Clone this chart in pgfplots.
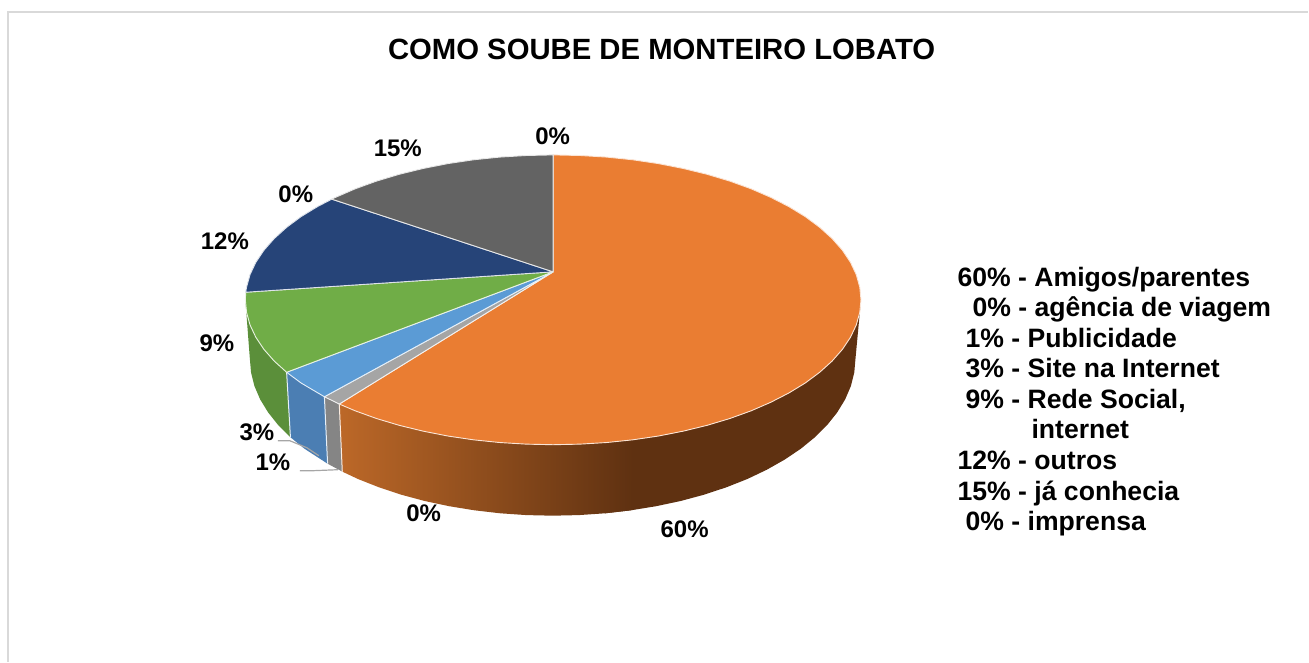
\documentclass[border=0pt]{standalone}
\usepackage{pgfplots}
\pgfplotsset{compat=1.18}
\usepackage{fontspec}
\setmainfont{Liberation Sans}
\definecolor{cOrange}{HTML}{EA7D32}
\definecolor{cOrangeL}{HTML}{BC6828}
\definecolor{cOrangeD}{HTML}{5F3111}
\definecolor{cGrayL}{HTML}{A5A5A5}
\definecolor{cGrayW}{HTML}{858585}
\definecolor{cBlue}{HTML}{5B9BD5}
\definecolor{cBlueW}{HTML}{4B7EB3}
\definecolor{cGreen}{HTML}{70AD47}
\definecolor{cGreenW}{HTML}{5B8F3A}
\definecolor{cNavy}{HTML}{264478}
\definecolor{cDark}{HTML}{636363}
\definecolor{cFrame}{HTML}{D9D9D9}
\definecolor{cLead}{HTML}{A6A6A6}
\newcommand{\lab}[3]{\node[font=\fontsize{24}{24}\selectfont\bfseries,anchor=center] at (axis cs:#1,#2) {#3};}
\newcommand{\leg}[3]{\node[font=\fontsize{26.6}{26.6}\selectfont\bfseries,anchor=base west,inner sep=0pt] at (axis cs:#1,#2) {#3};}
\begin{document}
\begin{tikzpicture}
\begin{axis}[
  scale only axis, width=1309pt, height=662pt,
  xmin=0, xmax=1309, ymin=0, ymax=662, y dir=reverse,
  axis lines=none, clip=false, no markers,
]
\path (axis cs:0,0) rectangle (axis cs:1309,662);
% frame
\addplot[cFrame, line width=1.6pt, sharp plot] coordinates {(8,662) (8,12) (1309,12)};
% walls
\addplot[fill=cOrangeD, draw=none] coordinates {
(607.0,442.8) (633.2,440.1) (658.8,436.3) (683.7,431.4) (707.5,425.6) (730.2,418.8) (751.5,411.1) (771.3,402.5) (789.4,393.2) (805.8,383.2) (820.2,372.5) (832.6,361.3) (842.9,349.6) (851.0,337.5) (856.8,325.2) (860.3,312.6) (861.5,300)
(856,359) (854.8,372.7) (851.4,386.3) (845.7,399.6) (837.7,412.7) (827.6,425.4) (815.4,437.5) (801.2,449.1) (785.1,459.9) (767.3,470.0) (747.8,479.3) (726.8,487.6) (704.5,495.0) (681.1,501.3) (656.6,506.5) (631.4,510.6) (605.6,513.6) (607.0,442.8)};
\addplot[left color=cOrangeL, right color=cOrangeD, draw=none] coordinates {
(339.5,404.3) (355.5,411.1) (376.8,418.8) (399.5,425.6) (423.3,431.4) (448.2,436.3) (473.8,440.1) (500.0,442.8) (526.6,444.4) (553.5,445) (580.4,444.4) (607.0,442.8) (633.2,440.1)
(631.4,510.6) (605.6,513.6) (579.4,515.4) (553,516) (526.6,515.4) (500.4,513.6) (474.6,510.6) (449.4,506.5) (424.9,501.3) (401.5,495.0) (379.2,487.6) (358.2,479.3) (342.5,471.9) (339.5,404.3)};
\addplot[fill=cGrayW, draw=none] coordinates {(324.6,397.0) (339.5,404.3) (342.5,471.9) (327.8,464.0) (324.6,397.0)};
\addplot[fill=cBlueW, draw=none] coordinates {(286.8,372.5) (301.2,383.2) (324.6,397.0) (327.8,464.0) (304.8,449.1) (290.6,437.5) (286.8,372.5)};
\addplot[fill=cGreenW, draw=none] coordinates {(245.5,300) (246.7,312.6) (250.2,325.2) (256.0,337.5) (264.1,349.6) (274.4,361.3) (286.8,372.5) (290.6,437.5) (278.4,425.4) (268.3,412.7) (260.3,399.6) (254.6,386.3) (251.2,372.7) (250,359) (245.5,300)};
% seams between the walls
\addplot[white!85!cBlue, line width=1pt] coordinates {(286.8,372.5) (290.6,437.5)};
\addplot[white!85!cBlue, line width=1pt] coordinates {(324.6,397.0) (327.8,464.0)};
\addplot[white!85!cOrange, line width=1pt] coordinates {(339.5,404.3) (342.5,471.9)};
% top faces
\addplot[fill=cOrange, draw=white!80!cOrange, line width=0.9pt] coordinates {
(553.5,272) (553.5,155) (580.4,155.6) (607.0,157.2) (633.2,159.9) (658.8,163.7) (683.7,168.6) (707.5,174.4) (730.2,181.2) (751.5,188.9) (771.3,197.5) (789.4,206.8) (805.8,216.8) (820.2,227.5) (832.6,238.7) (842.9,250.4) (851.0,262.5) (856.8,274.8) (860.3,287.4) (861.5,300)
(860.3,312.6) (856.8,325.2) (851.0,337.5) (842.9,349.6) (832.6,361.3) (820.2,372.5) (805.8,383.2) (789.4,393.2) (771.3,402.5) (751.5,411.1) (730.2,418.8) (707.5,425.6) (683.7,431.4) (658.8,436.3) (633.2,440.1) (607.0,442.8) (580.4,444.4) (553.5,445)
(526.6,444.4) (500.0,442.8) (473.8,440.1) (448.2,436.3) (423.3,431.4) (399.5,425.6) (376.8,418.8) (355.5,411.1) (339.5,404.3) (553.5,272)};
\addplot[fill=cGrayL, draw=white!85!cGrayL, line width=0.9pt] coordinates {(553.5,272) (339.5,404.3) (324.6,397.0) (553.5,272)};
\addplot[fill=cBlue, draw=white!85!cBlue, line width=0.9pt] coordinates {(553.5,272) (324.6,397.0) (301.2,383.2) (286.8,372.5) (553.5,272)};
\addplot[fill=cGreen, draw=white!85!cGreen, line width=0.9pt] coordinates {(553.5,272) (286.8,372.5) (274.4,361.3) (264.1,349.6) (256.0,337.5) (250.2,325.2) (246.7,312.6) (245.5,300) (245.9,292.4) (553.5,272)};
\addplot[fill=cNavy, draw=white!85!cNavy, line width=0.9pt] coordinates {(553.5,272) (245.9,292.4) (246.7,287.4) (250.2,274.8) (256.0,262.5) (264.1,250.4) (274.4,238.7) (286.8,227.5) (301.2,216.8) (317.6,206.8) (332.0,199.3) (553.5,272)};
\addplot[fill=cDark, draw=white!85!cDark, line width=0.9pt] coordinates {(553.5,272) (332.0,199.3) (335.7,197.5) (355.5,188.9) (376.8,181.2) (399.5,174.4) (423.3,168.6) (448.2,163.7) (473.8,159.9) (500.0,157.2) (526.6,155.6) (553.5,155) (553.5,272)};
% leader lines
\addplot[cLead, line width=1.2pt] coordinates {(278,441) (290,441) (307,448) (319,456)};
\addplot[cLead, line width=1.2pt] coordinates {(300,471) (313,471) (338,470)};
% title
\node[font=\fontsize{29.3}{29.3}\selectfont\bfseries,anchor=base,inner sep=0pt] at (axis cs:662,60) {COMO SOUBE DE MONTEIRO LOBATO};
% data labels
\lab{685}{530}{60\%}
\lab{424}{514}{0\%}
\lab{273}{463}{1\%}
\lab{257}{433}{3\%}
\lab{217}{343}{9\%}
\lab{225}{241}{12\%}
\lab{296}{194}{0\%}
\lab{398}{148}{15\%}
\lab{553}{136}{0\%}
% legend text
\leg{958}{287}{60\% - Amigos/parentes}
\leg{973}{317}{0\% - agência de viagem}
\leg{966}{348}{1\% - Publicidade}
\leg{966}{378}{3\% - Site na Internet}
\leg{966}{409}{9\% - Rede Social,}
\leg{1032}{439}{internet}
\leg{958}{470}{12\% - outros}
\leg{958}{501}{15\% - já conhecia}
\leg{966}{531}{0\% - imprensa}
\end{axis}
\end{tikzpicture}
\end{document}
